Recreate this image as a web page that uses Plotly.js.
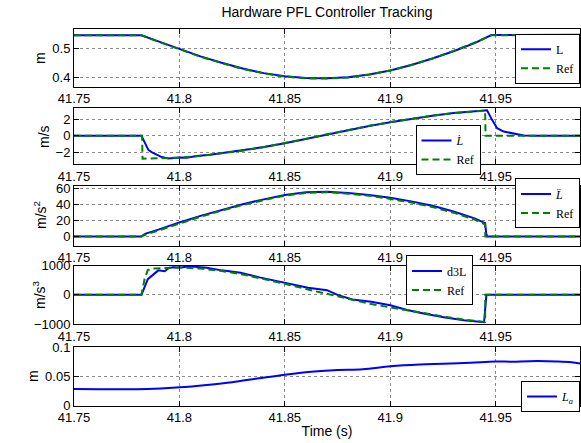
<!DOCTYPE html>
<html><head><meta charset="utf-8">
<script src="https://cdn.plot.ly/plotly-3.0.1.min.js"></script>
<style>html,body{margin:0;padding:0;background:#fff}#chart{width:581px;height:443px}</style>
</head><body><div id="chart"></div>
<script>
// ---------------- data ----------------
const xTickVals = [41.75, 41.8, 41.85, 41.9, 41.95];
const xTickText = ['41.75', '41.8', '41.85', '41.9', '41.95'];

// position (m)
const tPos   = [41.75, 41.782, 41.79, 41.80, 41.81, 41.82, 41.83, 41.84, 41.85, 41.86, 41.865, 41.87, 41.88, 41.89, 41.90, 41.91, 41.92, 41.93, 41.94, 41.947, 41.948, 41.99];
const posL   = [0.545, 0.545, 0.524, 0.498, 0.472, 0.450, 0.430, 0.414, 0.403, 0.397, 0.396, 0.396, 0.400, 0.409, 0.423, 0.442, 0.465, 0.490, 0.518, 0.543, 0.546, 0.547];
const posRef = [0.545, 0.545, 0.523, 0.497, 0.471, 0.449, 0.429, 0.413, 0.402, 0.396, 0.395, 0.395, 0.399, 0.409, 0.423, 0.442, 0.465, 0.491, 0.520, 0.544, 0.545, 0.545];

// velocity (m/s)
const tVelL = [41.75, 41.782, 41.7837, 41.7852, 41.7868, 41.7892, 41.7916, 41.7947, 41.797, 41.80, 41.8035, 41.8082, 41.8145, 41.8225, 41.83, 41.84, 41.85, 41.86, 41.87, 41.88, 41.89, 41.90, 41.91, 41.92, 41.93, 41.94, 41.9459, 41.9483, 41.9507, 41.9538, 41.9585, 41.9633, 41.97, 41.975, 41.99];
const velL  = [0, 0, -0.9, -1.7, -2.0, -2.33, -2.6, -2.78, -2.74, -2.65, -2.7, -2.48, -2.33, -2.05, -1.78, -1.37, -0.9, -0.37, 0.18, 0.72, 1.22, 1.67, 2.1, 2.48, 2.8, 3.03, 3.15, 1.96, 0.94, 0.53, 0.25, 0.05, 0.02, 0, 0];
const tVelRef = [41.75, 41.7823, 41.7825, 41.79, 41.80, 41.81, 41.82, 41.83, 41.84, 41.85, 41.86, 41.87, 41.88, 41.89, 41.90, 41.91, 41.92, 41.93, 41.94, 41.945, 41.9452, 41.99];
const velRef  = [0, 0, -2.8, -2.78, -2.68, -2.47, -2.18, -1.82, -1.39, -0.91, -0.37, 0.19, 0.73, 1.23, 1.69, 2.11, 2.48, 2.79, 3.02, 3.1, 0, 0];

// acceleration (m/s^2)
const tAccL = [41.75, 41.782, 41.783, 41.784, 41.79, 41.80, 41.81, 41.82, 41.83, 41.84, 41.85, 41.86, 41.865, 41.87, 41.88, 41.89, 41.90, 41.91, 41.92, 41.93, 41.94, 41.945, 41.9455, 41.946, 41.99];
const accL  = [0, 0, 2, 3.5, 8.5, 17.5, 25.5, 33, 40, 46, 51.5, 54.8, 55.5, 55.5, 54, 51.5, 48, 43.5, 38, 31, 22.5, 16.5, 4, 0, 0];
const tAccRef = [41.75, 41.782, 41.7825, 41.79, 41.80, 41.81, 41.82, 41.83, 41.84, 41.85, 41.86, 41.865, 41.87, 41.88, 41.89, 41.90, 41.91, 41.92, 41.93, 41.94, 41.945, 41.9451, 41.99];
const accRef  = [0, 0, 1, 7.5, 16.5, 24.5, 32, 39, 45, 50.5, 54, 54.8, 54.8, 53, 50.5, 46.5, 42, 36.5, 29.5, 21, 15, 0, 0];

// jerk (m/s^3)
const tJerkL = [41.75, 41.782, 41.783, 41.785, 41.788, 41.79, 41.793, 41.795, 41.797, 41.801, 41.8045, 41.808, 41.813, 41.82, 41.829, 41.838, 41.85, 41.861, 41.87, 41.875, 41.882, 41.891, 41.90, 41.908, 41.917, 41.926, 41.935, 41.942, 41.9445, 41.9456, 41.99];
const jerkL  = [0, 0, 180, 540, 720, 840, 810, 920, 950, 940, 980, 960, 930, 840, 760, 600, 420, 240, 160, 0, -160, -240, -360, -520, -660, -780, -870, -930, -940, 0, 0];
const tJerkRef = [41.75, 41.782, 41.7835, 41.785, 41.787, 41.795, 41.80, 41.81, 41.82, 41.83, 41.84, 41.85, 41.86, 41.87, 41.88, 41.89, 41.90, 41.91, 41.92, 41.93, 41.94, 41.945, 41.9451, 41.99];
const jerkRef  = [0, 0, 550, 850, 900, 930, 940, 900, 820, 700, 550, 380, 200, 40, -140, -300, -430, -560, -680, -800, -890, -930, 0, 0];

// La (m)
const tLa = [41.75, 41.785, 41.80, 41.813, 41.825, 41.838, 41.85, 41.864, 41.875, 41.887, 41.90, 41.914, 41.925, 41.938, 41.95, 41.958, 41.966, 41.979, 41.986, 41.99];
const La  = [0.0282, 0.0282, 0.0312, 0.0353, 0.040, 0.047, 0.053, 0.0585, 0.0610, 0.0622, 0.0674, 0.0706, 0.0718, 0.0735, 0.0755, 0.0753, 0.0762, 0.0758, 0.0745, 0.0720];

const yLabels = ['m', 'm/s', 'm/s<sup>2</sup>', 'm/s<sup>3</sup>', 'm'];
const legendNames = [['L', 'Ref'], ['<i>L\u0307</i>', 'Ref'], ['<i>L\u0308</i>', 'Ref'], ['d3L', 'Ref'], ['<i>L</i><sub><i>a</i></sub>']];

// ---------------- layout ----------------
const H = 443;
const boxes = [[29.3, 86.7], [107.5, 164.2], [185.7, 245.7], [265.7, 324], [347.3, 405.5]];
const yRanges = [[0.367, 0.566], [-3.48, 3.48], [-11.4, 62.9], [-1000, 1000], [0, 0.1]];
const yTicks = [[0.4, 0.5], [-2, 0, 2], [0, 20, 40, 60], [-1000, 0, 1000], [0, 0.05, 0.1]];
const yTickText = [['0.4', '0.5'], ['\u22122', '0', '2'], ['0', '20', '40', '60'], ['\u22121000', '0', '1000'], ['0', '0.05', '0.1']];

const BLUE = '#0000ff', GREEN = '#008000';
const tickFont = {family: 'Liberation Sans, Arial, sans-serif', size: 13, color: '#000'};
const legFont = {family: 'Liberation Serif, DejaVu Serif, serif', size: 12, color: '#000'};

function axCommon() {
  return {ticks: 'inside', ticklen: 5, tickcolor: '#000', tickwidth: 1, showline: true, linecolor: '#000', linewidth: 1,
    mirror: 'ticks', showgrid: true, gridcolor: '#8a8a8a', griddash: 'dot', gridwidth: 1, zeroline: false,
    tickfont: tickFont, fixedrange: true};
}

const series = [
  [[tPos, posL], [tPos, posRef]],
  [[tVelL, velL], [tVelRef, velRef]],
  [[tAccL, accL], [tAccRef, accRef]],
  [[tJerkL, jerkL], [tJerkRef, jerkRef]],
  [[tLa, La]]
];

const traces = [];
const layout = {
  width: 581, height: 443,
  margin: {l: 74, r: 1, t: 0, b: 0},
  paper_bgcolor: '#fff', plot_bgcolor: '#fff',
  title: {text: 'Hardware PFL Controller Tracking', x: 0.5, xref: 'paper', xanchor: 'center', y: 1 - 11.7 / H, yanchor: 'middle',
    font: {family: 'Liberation Sans, Arial, sans-serif', size: 14, color: '#000'}},
  annotations: [],
  showlegend: true
};

// legend placement [x paper right edge, y px center]
const legPos = [[1.0, 58.7], [(480.5 - 74) / 506, 150], [1.0, 203.4], [(473 - 74) / 506, 280.4], [1.0, 396.5]];
const yLabelPos = [[40, 58], [43.5, 136.5], [40, 215], [39, 295], [33, 376]];

for (let k = 0; k < 5; k++) {
  const sfx = k === 0 ? '' : String(k + 1);
  const legName = 'legend' + sfx;
  series[k].forEach((s, i) => {
    traces.push({
      x: s[0], y: s[1], type: 'scatter', mode: 'lines',
      name: legendNames[k][i],
      xaxis: 'x' + sfx, yaxis: 'y' + sfx, legend: legName,
      line: i === 0 ? {color: BLUE, width: 2, shape: k === 4 ? 'spline' : 'linear'} : {color: GREEN, width: 2, dash: '7px,4px'},
      hoverinfo: 'skip'
    });
  });
  const [top, bot] = boxes[k];
  layout['xaxis' + sfx] = Object.assign(axCommon(), {
    domain: [0, 1], anchor: 'y' + sfx, range: [41.75, 41.99],
    tickvals: xTickVals, ticktext: xTickText
  });
  if (k === 4) {
    layout['xaxis' + sfx].title = {text: 'Time (s)', font: {family: 'Liberation Sans, Arial, sans-serif', size: 14, color: '#000'}, standoff: 2};
  }
  layout['yaxis' + sfx] = Object.assign(axCommon(), {
    domain: [(H - bot) / H, (H - top) / H], anchor: 'x' + sfx, range: yRanges[k],
    tickvals: yTicks[k], ticktext: yTickText[k]
  });
  layout[legName] = {
    x: legPos[k][0], xref: 'paper', xanchor: 'right',
    y: (H - legPos[k][1]) / H, yref: 'paper', yanchor: 'middle',
    bgcolor: '#fff', bordercolor: '#000', borderwidth: 1, font: legFont,
    tracegroupgap: 0, itemwidth: 30
  };
  layout.annotations.push({
    text: yLabels[k], xref: 'paper', yref: 'paper',
    x: (yLabelPos[k][0] - 74) / 506, y: (H - yLabelPos[k][1]) / H,
    xanchor: 'center', yanchor: 'middle', textangle: -90, showarrow: false,
    font: {family: 'Liberation Sans, Arial, sans-serif', size: 14, color: '#000'}
  });
}

Plotly.newPlot('chart', traces, layout, {staticPlot: true, displayModeBar: false});
</script>
</body></html>
